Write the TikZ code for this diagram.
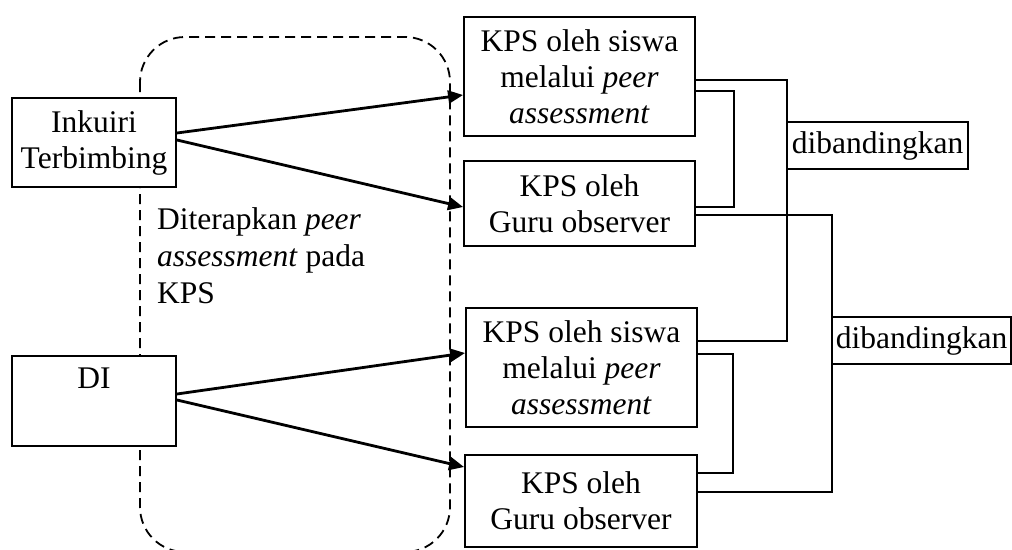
\documentclass[tikz,border=0pt]{standalone}
\usepackage{fontspec}
\setmainfont{Liberation Serif}
\usetikzlibrary{arrows.meta}
\begin{document}
\begin{tikzpicture}[x=1pt,y=-1pt,
  every node/.style={font=\fontsize{31.5}{36}\selectfont},
  box/.style={draw,fill=white,line width=1.9pt,inner sep=0pt,align=center},
  arr/.style={line width=2.8pt,-{Triangle[length=15pt,width=13pt]}},
  brk/.style={line width=2pt},
  dbox/.style={draw,fill=white,line width=2pt,inner sep=0pt,minimum height=47pt}]
\useasboundingbox[fill=white] (0,0) rectangle (1012,549);
% dashed region
\draw[line width=1.8pt,dash pattern=on 10pt off 6pt,rounded corners=45pt] (140,37) rectangle (450,552);
% left boxes
\node[box,minimum width=164pt,minimum height=89pt] (ink) at (94,142.5) {Inkuiri\\Terbimbing};
\node[box,minimum width=164pt,minimum height=90pt] (di) at (94,401) {};
\node[anchor=base,inner sep=0pt] (ditext) at (94,388) {DI};
% label in dashed region
\node[anchor=north west,inner sep=0pt,align=left,font=\fontsize{31.5}{37}\selectfont] (lab) at (157,207.5)
  {Diterapkan \textit{peer}\\\textit{assessment} pada\\KPS};
% right boxes
\node[box,minimum width=231pt,minimum height=119pt] (b1) at (579.5,76.5) {KPS oleh siswa\\melalui \textit{peer}\\\textit{assessment}};
\node[box,minimum width=231pt,minimum height=85pt] (b2) at (579.5,203.5) {KPS oleh\\Guru observer};
\node[box,minimum width=231pt,minimum height=119pt] (b3) at (581.5,367.5) {KPS oleh siswa\\melalui \textit{peer}\\\textit{assessment}};
\node[box,minimum width=232pt,minimum height=92pt] (b4) at (581,501) {KPS oleh\\Guru observer};
% bracket anchor points
\coordinate (b1r1) at ([yshift=-3.5pt]b1.east);
\coordinate (b1r2) at ([yshift=-14.5pt]b1.east);
\coordinate (b2r1) at ([yshift=-3.5pt]b2.east);
\coordinate (b2r2) at ([yshift=-11.5pt]b2.east);
\coordinate (b3r1) at ([yshift=26.5pt]b3.east);
\coordinate (b3r2) at ([yshift=13.5pt]b3.east);
\coordinate (b4r1) at ([yshift=28pt]b4.east);
\coordinate (b4r2) at ([yshift=9pt]b4.east);
% brackets
\draw[brk] (b1r1) -| (787,0 |- b3r1) -- (b3r1);
\draw[brk] (b1r2) -- ++(38,0) |- (b2r1);
\draw[brk] (b3r2) -- ++(35,0) |- (b4r1);
\draw[brk] (b2r2) -| (832,0 |- b4r2) -- (b4r2);
% comparison boxes
\node[dbox,minimum width=181pt] (d1) at (877.5,145.5) {dibandingkan};
\node[dbox,minimum width=179pt] (d2) at (921.5,340.5) {dibandingkan};
% arrows
\draw[arr] ([yshift=9.5pt]ink.east) -- ([yshift=-18.5pt]b1.west);
\draw[arr] ([yshift=2.5pt]ink.east) -- ([yshift=-3.5pt]b2.west);
\draw[arr] ([yshift=7pt]di.east) -- ([yshift=14.5pt]b3.west);
\draw[arr] ([yshift=1pt]di.east) -- ([yshift=34pt]b4.west);
\end{tikzpicture}
\end{document}
